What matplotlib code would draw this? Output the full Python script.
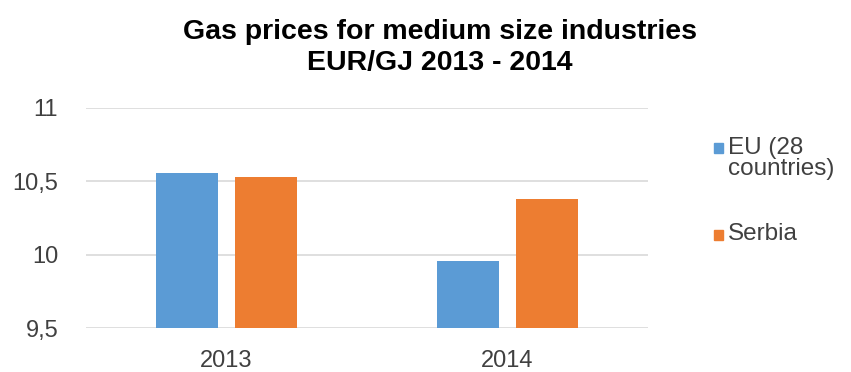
import matplotlib.pyplot as plt
import numpy as np
from matplotlib.patches import Rectangle
from matplotlib.ticker import FuncFormatter

years = ['2013', '2014']
eu_prices = [10.56, 9.96]
serbia_prices = [10.53, 10.38]
series_names = ['EU (28\ncountries)', 'Serbia']
series_colors = ['#5B9BD5', '#ED7D31']
y_ticks = [9.5, 10, 10.5, 11]

plt.rcParams['font.family'] = ['Liberation Sans', 'DejaVu Sans']

W, H = 851, 372
fig = plt.figure(figsize=(W / 100, H / 100), dpi=100)
ax = fig.add_axes([86 / W, 1 - 328 / H, (648 - 86) / W, (328 - 108) / H])

x = np.arange(len(years))
w = 0.22
off = 0.142
ax.bar(x - off, eu_prices, w, color=series_colors[0], zorder=2)
ax.bar(x + off, serbia_prices, w, color=series_colors[1], zorder=2)

ax.set_xlim(-0.5, 1.5)
ax.set_ylim(9.5, 11)
ax.set_yticks(y_ticks)
ax.yaxis.set_major_formatter(FuncFormatter(lambda v, p: ('%g' % v).replace('.', ',')))
ax.set_xticks(x)
ax.set_xticklabels(years)
ax.grid(axis='y', color='#D9D9D9', linewidth=1.2, zorder=0)

# Hide axis
ax.spines[['top', 'right', 'bottom', 'left']].set_visible(False)
ax.tick_params(length=0, labelsize=17, colors='#404040')
ax.tick_params(axis='y', pad=20)
ax.tick_params(axis='x', pad=16)

# baseline of a multi-line text is that of its last line
fig.text(440 / W, 1 - 70 / H, 'Gas prices for medium size industries\nEUR/GJ 2013 - 2014',
         ha='center', va='baseline', fontsize=20.5, fontweight='bold', linespacing=1.25)

# Legend: small squares next to the first line of each label
square_rows = [153, 240]
label_rows = [175, 240]
for name, color, sq, base in zip(series_names, series_colors, square_rows, label_rows):
    fig.patches.append(Rectangle((714 / W, 1 - sq / H), 9 / W, 10 / H,
                                 transform=fig.transFigure, color=color))
    fig.text(728 / W, 1 - base / H, name, ha='left', va='baseline',
             fontsize=17.5, color='#404040', linespacing=0.92)

fig.savefig('out.png', dpi=100)
